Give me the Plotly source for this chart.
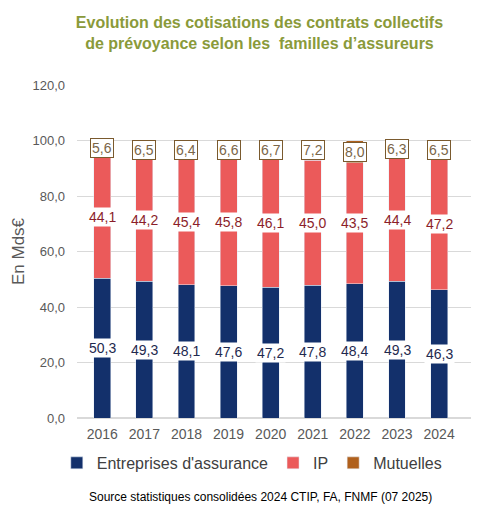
import plotly.graph_objects as go

years = ["2016", "2017", "2018", "2019", "2020", "2021", "2022", "2023", "2024"]
entreprises = [50.3, 49.3, 48.1, 47.6, 47.2, 47.8, 48.4, 49.3, 46.3]
ip = [44.1, 44.2, 45.4, 45.8, 46.1, 45.0, 43.5, 44.4, 47.2]
mutuelles = [5.6, 6.5, 6.4, 6.6, 6.7, 7.2, 8.0, 6.3, 6.5]

c_ent = "#13306B"
c_ip = "#EB5A5A"
c_mut = "#B0601C"
FONT = "Liberation Sans, Arial"

fig = go.Figure()
fig.add_trace(go.Bar(x=years, y=entreprises, name="Entreprises d'assurance", marker_color=c_ent, width=0.4))
fig.add_trace(go.Bar(x=years, y=ip, name="IP", marker_color=c_ip, width=0.4))
fig.add_trace(go.Bar(x=years, y=mutuelles, name="Mutuelles", marker_color=c_mut, width=0.4))

def fmt(v):
    return f"{v:.1f}".replace(".", ",")

annotations = []
for i, yr in enumerate(years):
    e, p, m = entreprises[i], ip[i], mutuelles[i]
    annotations.append(dict(x=i, y=e / 2, text=fmt(e), showarrow=False,
                            font=dict(size=14, color="#1F2A4F", family=FONT),
                            bgcolor="white", borderpad=1))
    annotations.append(dict(x=i, y=e + p / 2, text=fmt(p), showarrow=False,
                            font=dict(size=14, color="#8B1E2A", family=FONT),
                            bgcolor="white", borderpad=1))
    annotations.append(dict(x=i, y=e + p + m / 2, text=fmt(m), showarrow=False,
                            font=dict(size=14, color="#7A6548", family=FONT),
                            bgcolor="white", bordercolor="#7A5A2E", borderwidth=1, borderpad=1))

annotations.append(dict(xref="paper", yref="paper", x=0.458, y=-0.237, xanchor="center", yanchor="middle",
                        text="Source statistiques consolidées 2024 CTIP, FA, FNMF (07 2025)", showarrow=False,
                        font=dict(size=12, color="#000000", family=FONT)))

fig.update_layout(
    width=479, height=520,
    margin=dict(l=64, r=10, t=77, b=110),
    paper_bgcolor="white", plot_bgcolor="white",
    barmode="stack",
    separators=", ",
    title=dict(text="<b>Evolution des cotisations des contrats collectifs<br>de prévoyance selon les  familles d’assureurs</b>",
               x=0.525, xanchor="center", y=0.962, yanchor="top",
               font=dict(size=16, color="#8A9A3A", family=FONT)),
    xaxis=dict(type="category", range=[-0.6, 8.9], showgrid=False, showline=False, ticks="",
               ticklabelstandoff=6,
               tickfont=dict(size=14, color="#595959", family=FONT)),
    yaxis=dict(range=[0, 120], dtick=20, tickformat=".1f", showgrid=True, gridcolor="#D9D9D9",
               zeroline=True, zerolinecolor="#D9D9D9", showline=False, ticks="",
               ticklabelstandoff=11,
               tickfont=dict(size=13, color="#595959", family=FONT),
               title=dict(text="En Mds€", font=dict(size=17, color="#595959", family=FONT), standoff=3)),
    legend=dict(orientation="h", x=0.437, xanchor="center", y=-0.135, yanchor="middle",
                itemwidth=30,
                font=dict(size=16, color="#404040", family=FONT), traceorder="normal"),
    annotations=annotations,
    showlegend=True,
)

fig.write_html("out.html")
